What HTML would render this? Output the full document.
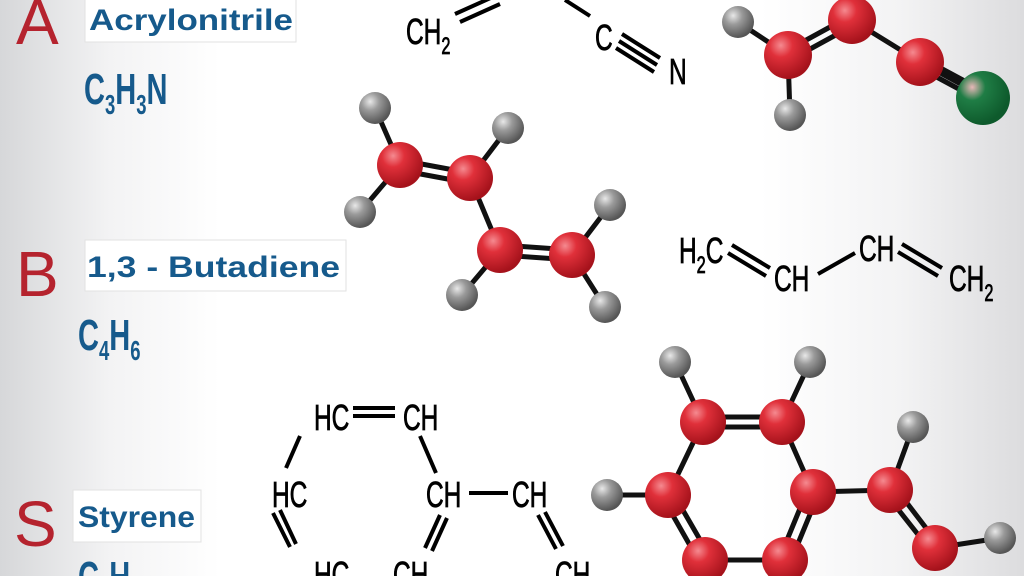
<!DOCTYPE html>
<html><head><meta charset="utf-8"><style>
html,body{margin:0;padding:0;overflow:hidden;width:1024px;height:576px}
body{background:linear-gradient(to right,#d6d7d9 0,#f3f3f4 110px,#fff 220px,#fff 760px,#f3f3f4 900px,#dcdcde 1024px)}
svg{position:absolute;left:0;top:0;display:block}
.f{font-family:"Liberation Sans",sans-serif}
</style></head><body>
<svg width="1024" height="576" viewBox="0 0 1024 576">
<defs>
<radialGradient id="r" cx="35%" cy="30%" r="70%"><stop offset="0" stop-color="#f58a90"/><stop offset="0.35" stop-color="#e0303a"/><stop offset="1" stop-color="#a5121b"/></radialGradient>
<radialGradient id="g" cx="35%" cy="30%" r="70%"><stop offset="0" stop-color="#e8e8e8"/><stop offset="0.4" stop-color="#9a9a9a"/><stop offset="1" stop-color="#555"/></radialGradient>
<radialGradient id="n" cx="30%" cy="30%" r="70%"><stop offset="0" stop-color="#e8b8b8"/><stop offset="0.35" stop-color="#1f7d45"/><stop offset="1" stop-color="#0e5a2c"/></radialGradient>
</defs>
<g class="f">
<text x="16" y="44" font-size="64" fill="#b5232e">A</text>
<rect x="85" y="-2" width="211" height="44" fill="#fff" stroke="#e2e2e2"/>
<text x="89" y="30" font-size="30" font-weight="bold" fill="#165a8c" textLength="204" lengthAdjust="spacingAndGlyphs">Acrylonitrile</text>
<text x="16" y="296" font-size="64" fill="#b5232e">B</text>
<rect x="85" y="240" width="261" height="51" fill="#fff" stroke="#e2e2e2"/>
<text x="87" y="277" font-size="30" font-weight="bold" fill="#165a8c" textLength="253" lengthAdjust="spacingAndGlyphs">1,3 - Butadiene</text>
<text x="14" y="546" font-size="64" fill="#b5232e">S</text>
<rect x="73" y="490" width="128" height="52" fill="#fff" stroke="#e2e2e2"/>
<text x="78" y="527" font-size="30" font-weight="bold" fill="#165a8c" textLength="117" lengthAdjust="spacingAndGlyphs">Styrene</text>
</g>
<g class="f" fill="#165a8c" font-size="44" font-weight="bold">
<g transform="translate(84,104) scale(0.66,1)"><text>C<tspan font-size="28" dy="10">3</tspan><tspan dy="-10">H</tspan><tspan font-size="28" dy="10">3</tspan><tspan dy="-10">N</tspan></text></g>
<g transform="translate(78,350) scale(0.66,1)"><text>C<tspan font-size="28" dy="10">4</tspan><tspan dy="-10">H</tspan><tspan font-size="28" dy="10">6</tspan></text></g>
<g transform="translate(78,592) scale(0.66,1)"><text>C<tspan font-size="28" dy="10">8</tspan><tspan dy="-10">H</tspan><tspan font-size="28" dy="10">8</tspan></text></g>
</g>
<g class="f" fill="#000" font-size="36" stroke="#000" stroke-width="0.8">
<g transform="translate(406,44) scale(0.68,1)"><text>CH<tspan font-size="24" dy="10">2</tspan></text></g>
<g transform="translate(595,50) scale(0.68,1)"><text>C</text></g>
<g transform="translate(669,84) scale(0.68,1)"><text>N</text></g>
<g transform="translate(679,263) scale(0.68,1)"><text>H<tspan font-size="24" dy="10">2</tspan><tspan dy="-10">C</tspan></text></g>
<g transform="translate(774,291) scale(0.68,1)"><text>CH</text></g>
<g transform="translate(859,261) scale(0.68,1)"><text>CH</text></g>
<g transform="translate(949,291) scale(0.68,1)"><text>CH<tspan font-size="24" dy="10">2</tspan></text></g>
<g transform="translate(314,430) scale(0.68,1)"><text>HC</text></g>
<g transform="translate(403,430) scale(0.68,1)"><text>CH</text></g>
<g transform="translate(272,507) scale(0.68,1)"><text>HC</text></g>
<g transform="translate(426,507) scale(0.68,1)"><text>CH</text></g>
<g transform="translate(512,507) scale(0.68,1)"><text>CH</text></g>
<g transform="translate(314,587) scale(0.68,1)"><text>HC</text></g>
<g transform="translate(393,587) scale(0.68,1)"><text>CH</text></g>
<g transform="translate(555,587) scale(0.68,1)"><text>CH</text></g>
</g>
<g stroke="#000" stroke-width="4" fill="none">
<path d="M455,14 L495,-4 M460,22 L500,4"/>
<path d="M565,0 L590,16"/>
<path d="M622,34 L660,58 M619,41 L657,65 M616,48 L654,72"/>
<path d="M732,245 L770,268 M728,253 L766,276"/>
<path d="M818,274 L855,253"/>
<path d="M902,244 L942,268 M898,252 L938,276"/>
<path d="M353,408 L395,408 M353,416 L395,416"/>
<path d="M286,468 L300,436 M420,436 L436,473"/>
<path d="M273,513 L290,547 M280,510 L296,544"/>
<path d="M440,515 L425,548 M447,518 L432,551"/>
<path d="M469,493 L508,493"/>
<path d="M538,515 L556,549 M545,512 L563,546"/>
<path d="M355,578 L388,578"/>
</g>
<g stroke="#111" stroke-width="5" fill="none">
<path d="M738,22 L788,55 M788,55 L790,115 M920,62 L985,97 M852,20 L920,62"/>
<path d="M788,50 L852,15 M790,60 L854,25"/>
<path d="M920,57 L985,92 M918,67 L983,102"/>
<path d="M375,108 L400,165 M400,165 L360,212 M470,178 L508,128 M470,178 L500,250 M500,250 L462,295 M572,255 L610,205 M572,255 L605,307"/>
<path d="M400,160 L470,173 M399,170 L469,183 M500,245 L572,250 M500,255 L572,260"/>
<path d="M675,362 L703,422 M782,422 L810,362 M703,422 L668,495 M782,422 L813,492 M668,495 L607,495 M813,492 L890,490 M890,490 L913,427 M705,560 L785,560 M935,548 L1000,538"/>
<path d="M703,417 L782,417 M703,427 L782,427"/>
<path d="M663,498 L700,563 M673,493 L710,557"/>
<path d="M808,489 L780,557 M818,495 L790,563"/>
<path d="M886,494 L931,551 M894,486 L939,545"/>
</g>
<g>
<circle cx="738" cy="22" r="16" fill="url(#g)"/>
<circle cx="790" cy="115" r="16" fill="url(#g)"/>
<circle cx="788" cy="55" r="24" fill="url(#r)"/>
<circle cx="852" cy="20" r="24" fill="url(#r)"/>
<circle cx="920" cy="62" r="24" fill="url(#r)"/>
<circle cx="983" cy="98" r="27" fill="url(#n)"/>
<circle cx="375" cy="108" r="16" fill="url(#g)"/>
<circle cx="508" cy="128" r="16" fill="url(#g)"/>
<circle cx="360" cy="212" r="16" fill="url(#g)"/>
<circle cx="462" cy="295" r="16" fill="url(#g)"/>
<circle cx="610" cy="205" r="16" fill="url(#g)"/>
<circle cx="605" cy="307" r="16" fill="url(#g)"/>
<circle cx="400" cy="165" r="23" fill="url(#r)"/>
<circle cx="470" cy="178" r="23" fill="url(#r)"/>
<circle cx="500" cy="250" r="23" fill="url(#r)"/>
<circle cx="572" cy="255" r="23" fill="url(#r)"/>
<circle cx="675" cy="362" r="16" fill="url(#g)"/>
<circle cx="810" cy="362" r="16" fill="url(#g)"/>
<circle cx="913" cy="427" r="16" fill="url(#g)"/>
<circle cx="607" cy="495" r="16" fill="url(#g)"/>
<circle cx="1000" cy="538" r="16" fill="url(#g)"/>
<circle cx="703" cy="422" r="23" fill="url(#r)"/>
<circle cx="782" cy="422" r="23" fill="url(#r)"/>
<circle cx="668" cy="495" r="23" fill="url(#r)"/>
<circle cx="813" cy="492" r="23" fill="url(#r)"/>
<circle cx="890" cy="490" r="23" fill="url(#r)"/>
<circle cx="935" cy="548" r="23" fill="url(#r)"/>
<circle cx="705" cy="560" r="23" fill="url(#r)"/>
<circle cx="785" cy="560" r="23" fill="url(#r)"/>
</g>
</svg>
</body></html>
